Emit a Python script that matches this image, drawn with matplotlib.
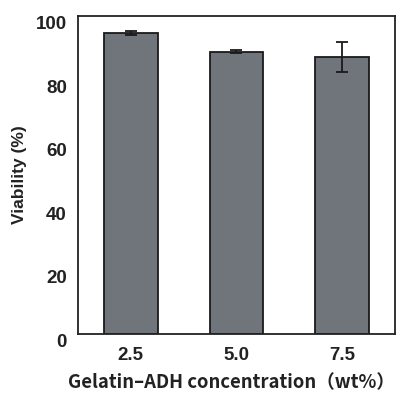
import matplotlib
matplotlib.use("Agg")
import matplotlib.pyplot as plt

concentrations = ["2.5", "5.0", "7.5"]
viability = [94.7, 88.8, 87.0]
viability_err = [0.6, 0.4, 4.7]

plt.rcParams['font.family'] = ['Liberation Sans', 'DejaVu Sans']

fig = plt.figure(figsize=(4.03, 4.00), dpi=100)
ax = fig.add_axes([78 / 403, 1 - 334 / 400, 317 / 403, 318 / 400])

x = range(len(concentrations))
ax.bar(x, viability, width=0.51, color='#70757c', edgecolor='#1a1a1a',
       linewidth=1.3, yerr=viability_err, capsize=4,
       error_kw=dict(ecolor='#1a1a1a', elinewidth=1.3, capthick=1.3))

ax.set_xlim(-0.5, 2.5)
ax.set_ylim(0, 100)
ax.set_yticks([0, 20, 40, 60, 80, 100])
ax.set_xticks(list(x))
ax.set_xticklabels(concentrations)
ax.tick_params(axis='both', length=0, labelsize=13.5, colors='#222222')
ax.tick_params(axis='y', pad=8)
ax.tick_params(axis='x', pad=9)
for lbl in ax.get_yticklabels() + ax.get_xticklabels():
    lbl.set_fontweight('bold')
for lbl in ax.get_yticklabels():
    lbl.set_va('top')

for side in ax.spines.values():
    side.set_linewidth(1.3)
    side.set_color('#222222')

ax.set_ylabel('Viability (%)', fontsize=12.5, fontweight='bold', color='#222222', labelpad=6)
ax.set_xlabel('Gelatin\u2013ADH concentration\uff08wt%\uff09', fontsize=13.3,
              fontweight='bold', color='#222222', va='center',
              family=['Noto Sans CJK JP', 'DejaVu Sans'])
ax.xaxis.set_label_coords(0.485, -0.154)

fig.savefig('out.png', dpi=100)
